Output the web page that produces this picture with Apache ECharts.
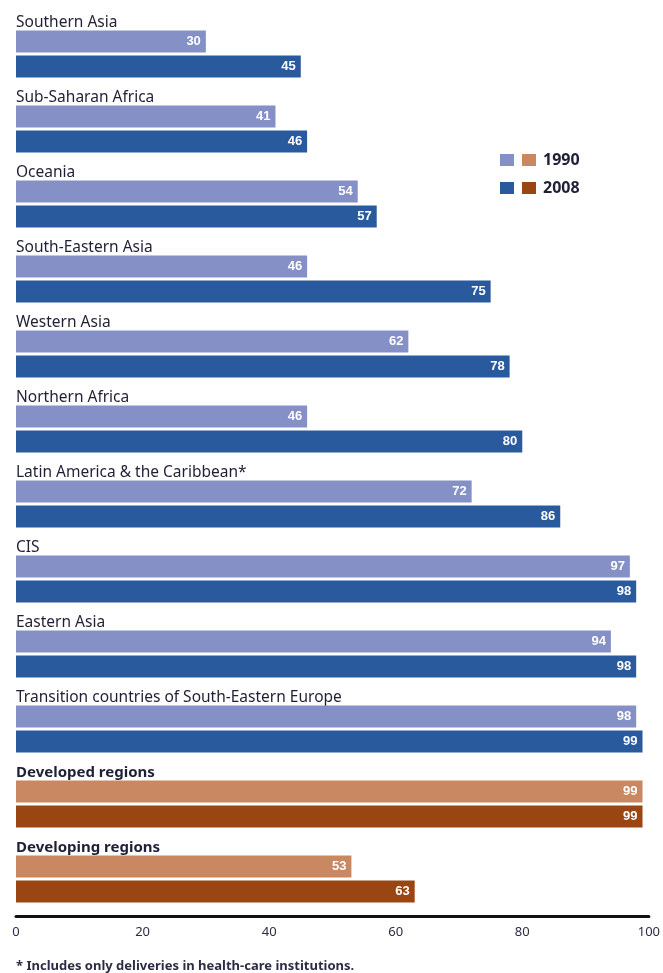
<!DOCTYPE html>
<html>
<head>
<meta charset="utf-8">
<script src="https://cdn.jsdelivr.net/npm/echarts@6/dist/echarts.min.js"></script>
<style>
  html, body { margin: 0; padding: 0; background: #fff; }
  #chart { width: 663px; height: 973px; }
</style>
</head>
<body>
<div id="chart"></div>
<script>
// Regions, top to bottom
const regions = [
  'Southern Asia',
  'Sub-Saharan Africa',
  'Oceania',
  'South-Eastern Asia',
  'Western Asia',
  'Northern Africa',
  'Latin America & the Caribbean*',
  'CIS',
  'Eastern Asia',
  'Transition countries of South-Eastern Europe',
  'Developed regions',
  'Developing regions'
];
// Proportion of deliveries attended by skilled health personnel (%)
const values1990 = [30, 41, 54, 46, 62, 46, 72, 97, 94, 98, 99, 53];
const values2008 = [45, 46, 57, 75, 78, 80, 86, 98, 98, 99, 99, 63];
const xTicks = [0, 20, 40, 60, 80, 100];
// Aggregate rows drawn in bold with the brown palette
const aggregates = ['Developed regions', 'Developing regions'];

const COL = {
  blue1990: '#8591c6',
  blue2008: '#2a5a9e',
  brown1990: '#c98762',
  brown2008: '#9a4612'
};

// Each region takes three rows: its name, the 1990 bar, the 2008 bar
const rows = [];
regions.forEach((r, i) => { rows.push('name' + i, 'a' + i, 'b' + i); });

function rowData(vals, slot, cBlue, cBrown) {
  const out = rows.map(() => '-');
  vals.forEach((v, i) => {
    const agg = aggregates.indexOf(regions[i]) >= 0;
    out[i * 3 + slot] = { value: v, itemStyle: { color: agg ? cBrown : cBlue } };
  });
  return out;
}

const FONT = '"Noto Sans", "Liberation Sans", sans-serif';
const TEXT = '#1f2035';

const valueLabel = {
  show: true,
  position: 'insideRight',
  distance: 5,
  color: '#fff',
  fontWeight: 'bold',
  fontSize: 13,
  fontFamily: '"Liberation Sans Narrow", "Liberation Sans", sans-serif'
};

const chart = echarts.init(document.getElementById('chart'), null, { renderer: 'canvas' });
chart.setOption({
  animation: false,
  backgroundColor: '#ffffff',
  grid: { left: 16, top: 4, width: 633, height: 900, containLabel: false },
  legend: {
    orient: 'vertical',
    left: 500,
    top: 152,
    padding: 0,
    itemWidth: 14,
    itemHeight: 12,
    itemGap: 12,
    icon: 'rect',
    data: ['1990', '2008'],
    formatter: name => '{pad|}{sw' + name + '|}{gap|}{t|' + name + '}',
    textStyle: {
      rich: {
        pad: { width: 3 },
        sw1990: { width: 14, height: 12, backgroundColor: COL.brown1990 },
        sw2008: { width: 14, height: 12, backgroundColor: COL.brown2008 },
        gap: { width: 7 },
        t: { fontFamily: FONT, fontWeight: 'bold', fontSize: 16, color: TEXT }
      }
    }
  },
  xAxis: {
    type: 'value',
    min: 0,
    max: 100,
    interval: 20,
    offset: 12,
    axisLine: { show: true, lineStyle: { color: '#111', width: 3 } },
    axisTick: { show: false },
    splitLine: { show: false },
    axisLabel: {
      margin: 10,
      fontFamily: FONT,
      fontSize: 13,
      color: '#2c2d45',
      formatter: v => (xTicks.indexOf(v) >= 0 ? String(v) : '')
    }
  },
  yAxis: {
    type: 'category',
    inverse: true,
    data: rows,
    axisLine: { show: false },
    axisTick: { show: false },
    axisLabel: {
      inside: true,
      margin: 0,
      interval: 0,
      padding: [13, 0, 0, 0],
      fontFamily: FONT,
      fontSize: 15.5,
      color: TEXT,
      formatter: (value, index) => {
        if (index % 3 !== 0) return '';
        const name = regions[index / 3];
        return aggregates.indexOf(name) >= 0 ? '{b|' + name + '}' : name;
      },
      rich: {
        b: { fontFamily: FONT, fontSize: 15, fontWeight: 'bold', color: TEXT }
      }
    }
  },
  series: [
    {
      name: '1990',
      type: 'bar',
      barWidth: 22,
      barGap: '-100%',
      itemStyle: { color: COL.blue1990 },
      label: valueLabel,
      data: rowData(values1990, 1, COL.blue1990, COL.brown1990)
    },
    {
      name: '2008',
      type: 'bar',
      barWidth: 22,
      barGap: '-100%',
      itemStyle: { color: COL.blue2008 },
      label: valueLabel,
      data: rowData(values2008, 2, COL.blue2008, COL.brown2008)
    }
  ],
  graphic: [
    {
      type: 'text',
      left: 16,
      top: 960,
      style: {
        text: '* Includes only deliveries in health-care institutions.',
        fontFamily: FONT,
        fontSize: 13,
        fontWeight: 'bold',
        fill: '#2c2d45'
      }
    }
  ]
});
</script>
</body>
</html>
